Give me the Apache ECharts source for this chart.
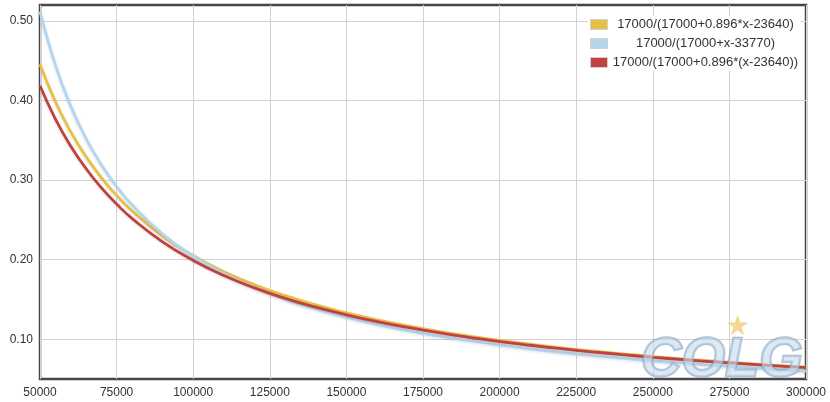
<!DOCTYPE html>
<html><head><meta charset="utf-8">
<script src="https://cdn.jsdelivr.net/npm/echarts@6/dist/echarts.min.js"></script>
<style>html,body{margin:0;padding:0;background:#fff}#c{width:830px;height:402px}</style>
</head><body><div id="c"></div>
<script>
var xs = [50000,55000,60000,65000,70000,75000,80000,90000,100000,110000,120000,130000,140000,150000,160000,170000,180000,190000,200000,210000,220000,230000,240000,250000,260000,270000,280000,290000,300000];
var names = ['17000/(17000+0.896*x-23640)','17000/(17000+x-33770)','17000/(17000+0.896*(x-23640))'];
var orangeVals = [0.4455,0.3987,0.3608,0.3295,0.3031,0.2807,0.2614,0.2297,0.2049,0.1849,0.1685,0.1548,0.1431,0.1331,0.1243,0.1167,0.1099,0.1039,0.0985,0.0937,0.0892,0.0852,0.0816,0.0782,0.0751,0.0723,0.0696,0.0671,0.0648];
var blueVals = [0.5116,0.4447,0.3932,0.3525,0.3194,0.2919,0.2689,0.2321,0.2043,0.1823,0.1647,0.1501,0.1380,0.1276,0.1187,0.1109,0.1041,0.0981,0.0928,0.0880,0.0836,0.0797,0.0762,0.0729,0.0699,0.0671,0.0646,0.0622,0.0600];
var redVals = [0.4185,0.3770,0.3429,0.3145,0.2904,0.2698,0.2519,0.2223,0.1990,0.1801,0.1645,0.1514,0.1402,0.1306,0.1221,0.1148,0.1082,0.1024,0.0971,0.0924,0.0881,0.0842,0.0806,0.0773,0.0743,0.0715,0.0689,0.0665,0.0642];
var colors = ['#e8bf45','#b4d5ee','#c2413f'];

function pairs(v){ return xs.map(function(x,i){ return [x, v[i]]; }); }
var vals = [orangeVals, blueVals, redVals];
var chart = echarts.init(document.getElementById('c'));
chart.setOption({
  animation:false,
  color: colors,
  textStyle:{fontFamily:'Liberation Sans, Arial, sans-serif'},
  grid:{left:40,right:24,top:5,bottom:23,show:true,borderColor:'#474747',borderWidth:2.5,backgroundColor:'#fff'},
  legend:{
    orient:'vertical', left:588, top:16, itemWidth:17, itemHeight:10, itemGap:6,
    backgroundColor:'#fff', padding:[2,2,2,2],
    icon:'rect',
    itemStyle:{borderColor:'#d0d0d0',borderWidth:1},
    data:names,
    formatter:function(n){ return '{a|'+n+'}'; },
    textStyle:{color:'#333',fontSize:13,rich:{a:{width:186,align:'center',fontSize:13,color:'#333'}}}
  },
  xAxis:{type:'value',min:50000,max:300000,interval:25000,
    axisLine:{show:false},axisTick:{show:false},
    axisLabel:{color:'#333',fontSize:12,margin:8,formatter:function(v){return String(v);}},
    splitLine:{lineStyle:{color:'#d2d2d2',width:1}}},
  yAxis:{type:'value',min:0.05,max:0.52,interval:0.05,
    axisLine:{show:false},axisTick:{show:false},
    axisLabel:{color:'#333',fontSize:12,margin:7,showMaxLabel:false,showMinLabel:false,
      formatter:function(v){ var r=Math.round(v*100); return (r%10===0)?(r/100).toFixed(2):''; }},
    splitLine:{lineStyle:{color:['rgba(0,0,0,0)','#d2d2d2'],width:1}}},
  graphic:[
    {type:'text',right:26,bottom:12,z:100,silent:true,
     style:{text:'COLG',font:'italic bold 56px Liberation Sans, Arial',fill:'rgba(198,218,236,0.6)',stroke:'rgba(130,160,190,0.65)',lineWidth:2.5}},
    {type:'text',right:80,bottom:60,z:100,silent:true,
     style:{text:'★',font:'28px DejaVu Sans',fill:'rgba(240,205,120,0.8)'}}
  ],
  series: names.map(function(n,i){
    return {name:n,type:'line',smooth:true,symbol:'none',data:pairs(vals[i]),
      lineStyle:{width:2.8,color:colors[i],shadowColor:'rgba(0,0,0,0.12)',shadowBlur:3,shadowOffsetY:1},
      itemStyle:{color:colors[i]}};
  })
});
</script></body></html>
